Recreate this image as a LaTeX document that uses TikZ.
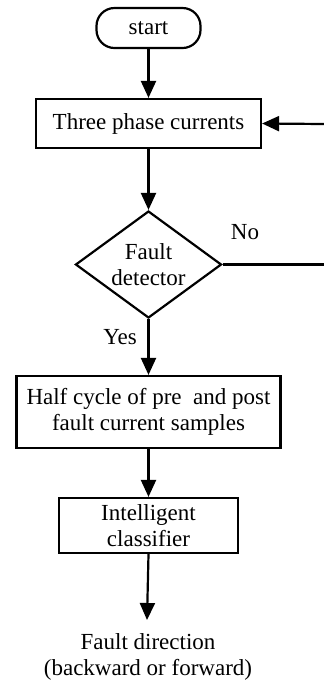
\documentclass[tikz,border=0pt]{standalone}
\usepackage{fontspec}
\setmainfont{Liberation Serif}
\usepackage{tikz}
\usetikzlibrary{positioning,shapes.geometric,arrows.meta}

\tikzset{
  txt/.style={font=\fontsize{11.5}{13}\selectfont, align=center},
  block/.style={txt, draw, line width=1.1pt, inner sep=0pt},
  term/.style={block, rounded corners=9pt},
  decide/.style={txt, draw, line width=1.1pt, shape=diamond, aspect=1.36, inner sep=0pt},
  flow/.style={line width=1.1pt, -{Triangle[length=8.5pt,width=7.5pt]}}
}

\begin{document}
\begin{tikzpicture}[x=0.5pt,y=-0.5pt]
\useasboundingbox (0,0) rectangle (324,682);
\node[term, minimum width=52pt, minimum height=20pt] (start) at (148.5,28) {start};
\node[block, minimum width=112.5pt, minimum height=24.5pt] (currents) at (148.5,123.5) {Three phase currents};
\node[decide, minimum width=73pt, minimum height=53.5pt] (detector) at (148.5,264.5) {Fault\\detector};
\node[block, minimum width=132pt, minimum height=36pt] (samples) at (148.5,412) {Half cycle of pre\ \ and post\\fault current samples};
\node[block, minimum width=89.5pt, minimum height=27.5pt] (classifier) at (148.5,525.5) {Intelligent\\classifier};
\coordinate (tip) at (147,620);
\node[txt] (direction) at (148,657) {Fault direction\\(backward or forward)};
\coordinate (noend) at (324,264.5);
\coordinate (back) at (324,124);
\node[txt] (no) at (245,232) {No};
\node[txt] (yes) at (120,337) {Yes};
% main flow
\draw[flow] (start) -- (currents);
\draw[flow] (currents) -- (detector);
\draw[flow] (detector) -- (samples);
\draw[flow] (samples) -- (classifier);
\draw[flow] (classifier.south) -- (tip);
% loop back
\draw[line width=1.1pt] (detector.east) -- (noend);
\draw[flow] (back) -- (currents.east);
\end{tikzpicture}
\end{document}
